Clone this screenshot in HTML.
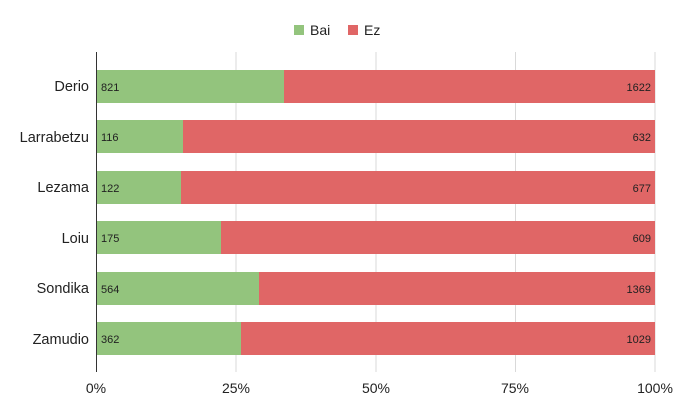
<!DOCTYPE html>
<html><head><meta charset="utf-8"><style>body{margin:0;background:#fff}svg{display:block;font-family:"Liberation Sans",sans-serif}</style></head><body>
<svg width="700" height="418" viewBox="0 0 700 418">
<rect width="700" height="418" fill="#fff"/>
<g stroke="#d9d9d9" stroke-width="1">
<line x1="236" y1="52" x2="236" y2="372"/><line x1="376" y1="52" x2="376" y2="372"/><line x1="515.5" y1="52" x2="515.5" y2="372"/><line x1="655" y1="52" x2="655" y2="372"/>
</g>
<g font-size="11" fill="#222">
<rect x="96" y="70" width="188" height="33" fill="#93c47d"/><rect x="284" y="70" width="371" height="33" fill="#e06666"/><text x="101" y="91">821</text><text x="651" y="91" text-anchor="end">1622</text>
<rect x="96" y="120" width="87" height="33" fill="#93c47d"/><rect x="183" y="120" width="472" height="33" fill="#e06666"/><text x="101" y="141">116</text><text x="651" y="141" text-anchor="end">632</text>
<rect x="96" y="171" width="85" height="33" fill="#93c47d"/><rect x="181" y="171" width="474" height="33" fill="#e06666"/><text x="101" y="192">122</text><text x="651" y="192" text-anchor="end">677</text>
<rect x="96" y="221" width="125" height="33" fill="#93c47d"/><rect x="221" y="221" width="434" height="33" fill="#e06666"/><text x="101" y="242">175</text><text x="651" y="242" text-anchor="end">609</text>
<rect x="96" y="272" width="163" height="33" fill="#93c47d"/><rect x="259" y="272" width="396" height="33" fill="#e06666"/><text x="101" y="293">564</text><text x="651" y="293" text-anchor="end">1369</text>
<rect x="96" y="322" width="145" height="33" fill="#93c47d"/><rect x="241" y="322" width="414" height="33" fill="#e06666"/><text x="101" y="343">362</text><text x="651" y="343" text-anchor="end">1029</text>
</g>
<line x1="96.5" y1="52" x2="96.5" y2="372" stroke="#333" stroke-width="1"/>
<g font-size="14.5" fill="#222" text-anchor="end">
<text x="89" y="91">Derio</text><text x="89" y="142">Larrabetzu</text><text x="89" y="192">Lezama</text><text x="89" y="243">Loiu</text><text x="89" y="293">Sondika</text><text x="89" y="344">Zamudio</text>
</g>
<g font-size="14" fill="#222" text-anchor="middle">
<text x="96" y="393">0%</text><text x="236" y="393">25%</text><text x="376" y="393">50%</text><text x="515" y="393">75%</text><text x="655" y="393">100%</text>
</g>
<rect x="294" y="25" width="10" height="10" fill="#93c47d"/><text x="310" y="35" font-size="14" fill="#222">Bai</text>
<rect x="348" y="25" width="10" height="10" fill="#e06666"/><text x="364" y="35" font-size="14" fill="#222">Ez</text>
</svg>
</body></html>
